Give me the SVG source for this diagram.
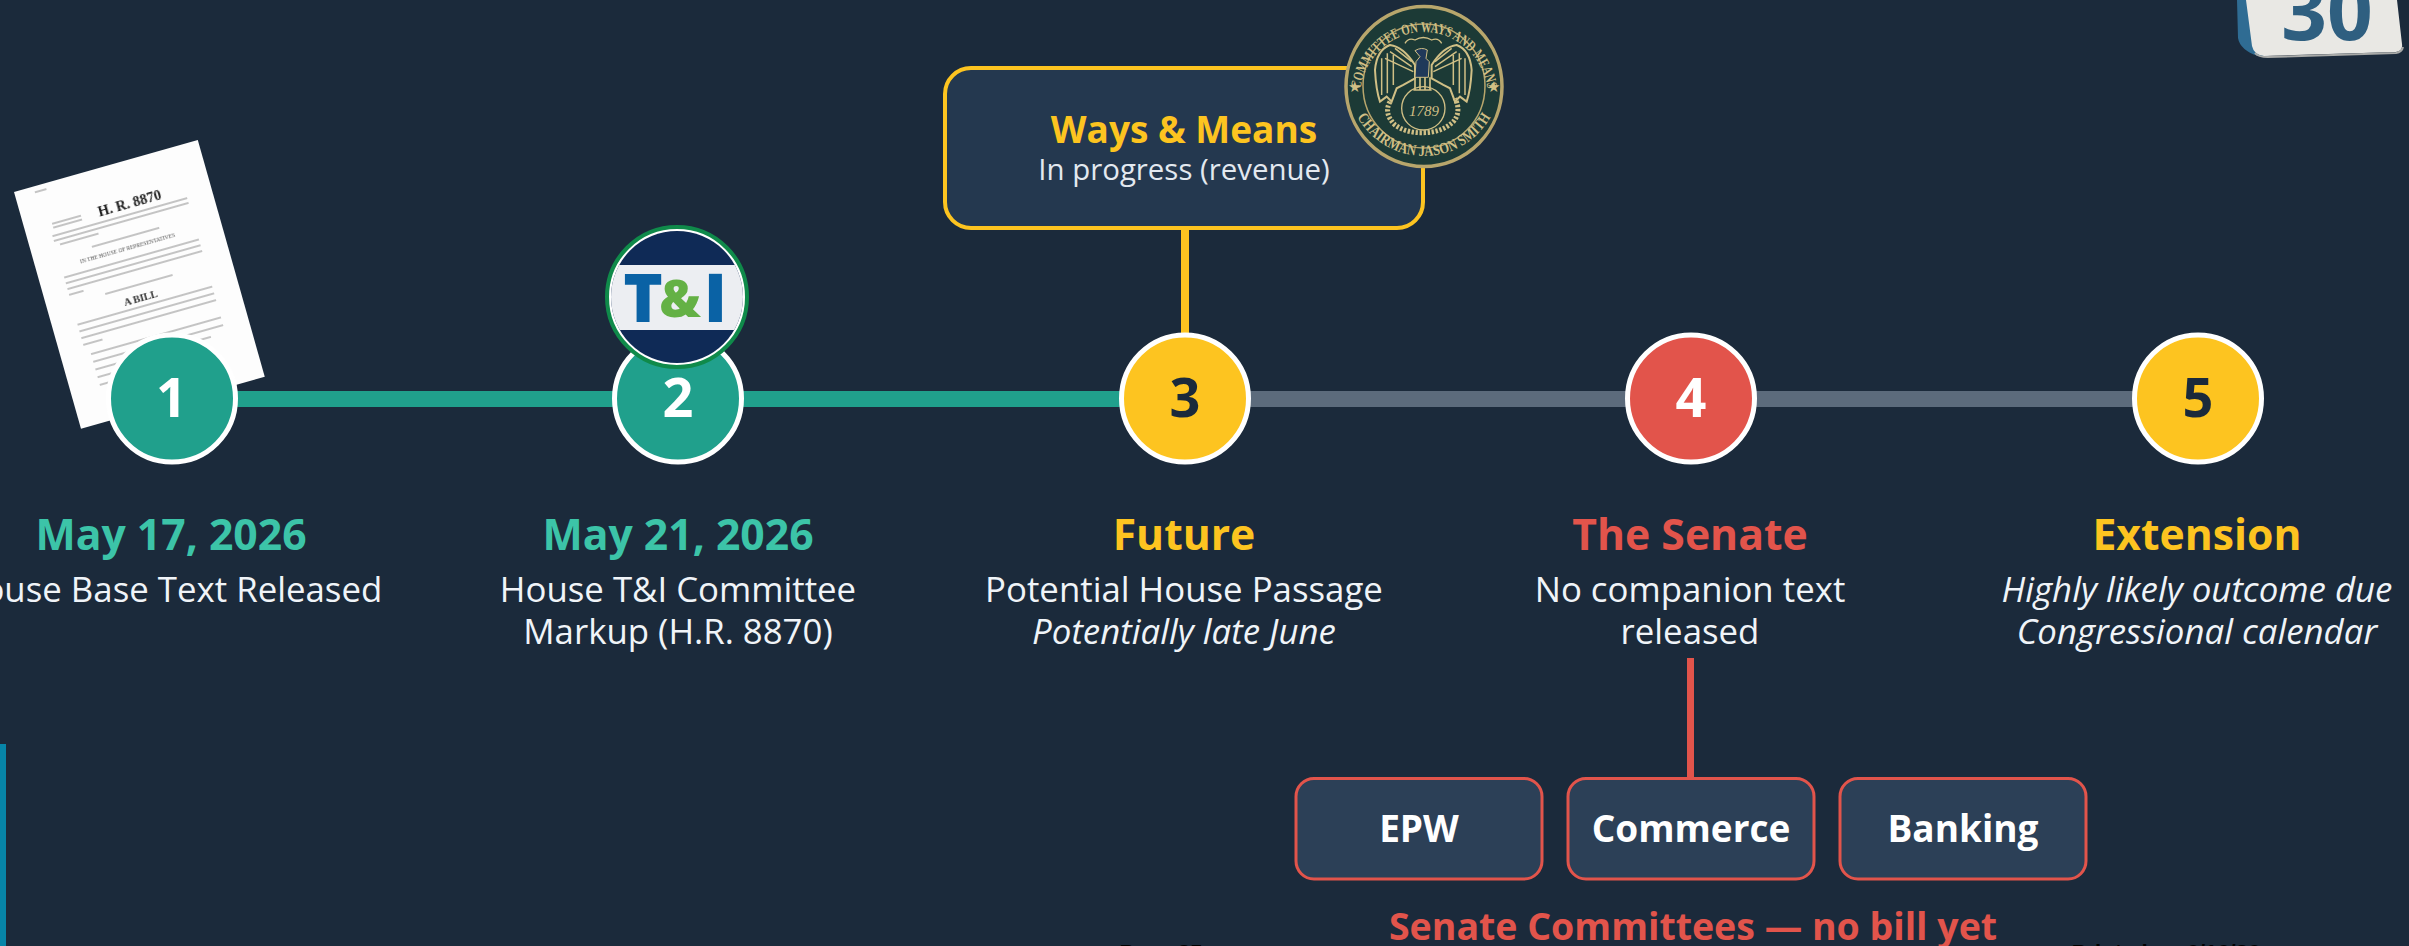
<svg xmlns="http://www.w3.org/2000/svg" width="2409" height="946" viewBox="0 0 2409 946">
<style>
text{font-family:"Open Sans","Noto Sans","Liberation Sans",sans-serif;text-anchor:middle}
.num{font-size:54px;font-weight:700}
.ttl{font-size:42.7px;font-weight:700}
.sub{font-size:34.8px;fill:#f0f4f8}
.it{font-style:italic}
.node{stroke:#fff;stroke-width:5}
.sen{fill:#2c4057;stroke:#e2544b;stroke-width:3}
.sent{font-size:37px;font-weight:700;fill:#fff}
.serif{font-family:"Liberation Serif",serif}
.gold{fill:#d0bf85}
.goldl{fill:none;stroke:#d0bf85}
.clip{font-family:"Liberation Sans",sans-serif;font-size:22px;font-weight:700;fill:#000}
</style>
<defs>
<filter id="soft" x="-5%" y="-5%" width="110%" height="110%"><feGaussianBlur stdDeviation="0.45"/></filter>
<clipPath id="ti"><circle cx="677" cy="297" r="66"/></clipPath>
<path id="arcT" d="M1360 98A64 66 0 1 1 1488 98"/>
<path id="arcB" d="M1347 78A77 78 0 0 0 1501 78"/>
<g id="wing"><path d="M225 195Q190 140 150 135Q110 150 105 210Q108 270 120 305L140 290L155 305L170 265L190 255L225 235Z" fill="#1c3a36" stroke="#d0bf85" stroke-width="6"/><path d="M125 175V285M142 160V280M160 165V255M135 175L220 215M150 155L215 200M165 145L215 185" fill="none" stroke="#d0bf85" stroke-width="4.5"/></g>
</defs>
<rect width="2409" height="946" fill="#1b2a3b"/>
<rect x="0" y="744" width="6" height="202" fill="#0785a8"/>
<text class="clip" x="1161" y="960">Page 35</text>
<text class="clip" x="2166" y="960">Printed on 6/16/26</text>
<g id="connectors">
<rect x="172" y="391" width="1013" height="16" fill="#20a08c"/>
<rect x="1185" y="391" width="1012" height="16" fill="#5c6b7c"/>
<rect x="1181" y="225" width="8" height="110" fill="#fdc420"/>
<rect x="1687" y="658" width="7" height="120" fill="#e2544b"/>
</g>
<g id="node-1">
<g transform="translate(14 192) rotate(-15.8)">
<rect width="191" height="246" fill="#fdfdfd"/>
<g filter="url(#soft)">
<text class="serif" x="108" y="47" style="font-size:14.5px;font-weight:700" fill="#222">H. R. 8870</text>
<text class="serif" x="94" y="87" style="font-size:5.6px" fill="#555">IN THE HOUSE OF REPRESENTATIVES</text>
<text class="serif" x="93" y="140" style="font-size:10.5px;font-weight:700" fill="#333">A BILL</text>
<g stroke="#8c8c8c" stroke-width="1.1">
<path d="M20 6H32M28 41H58M28 45H58M25 53H165M25 58H165M30 63H70"/>
<path d="M60 74H130M60 123H130"/>
<path d="M25 96H165M25 102H165M25 108H165M25 114H40"/>
<path d="M25 145H165M25 152H165M25 159H165M25 166H45"/>
<path d="M30 177H165M30 185H165M30 193H150M30 201H120M30 209H90"/>
</g>
</g>
</g>
<circle class="node" cx="172" cy="398.500" r="63.500" fill="#20a08c"/>
<text class="num" x="171.500" y="417" fill="#fff">1</text>
<text class="ttl" x="171" y="550" fill="#3cc4a8">May 17, 2026</text>
<text class="sub" x="170" y="602">House Base Text Released</text>
</g>
<g id="node-2">
<circle class="node" cx="678" cy="398.500" r="63.500" fill="#20a08c"/>
<text class="num" x="678" y="417" fill="#fff">2</text>
<circle cx="677" cy="297" r="70" fill="#fff" stroke="#0f8a4a" stroke-width="4"/>
<g clip-path="url(#ti)">
<rect x="600" y="220" width="160" height="155" fill="#0f2a56"/>
<rect x="600" y="265" width="160" height="65" fill="#eceef2"/>
</g>
<text y="322" style="font-size:67px;font-weight:800" fill="#0a62a5"><tspan x="643">T</tspan><tspan x="715.500">I</tspan></text>
<text x="680" y="317" style="font-size:52px;font-weight:800" fill="#64b145">&amp;</text>
<text class="ttl" x="678" y="550" fill="#3cc4a8">May 21, 2026</text>
<text class="sub" x="678" y="602">House T&amp;I Committee</text>
<text class="sub" x="678" y="644">Markup (H.R. 8870)</text>
</g>
<g id="node-3">
<rect x="945" y="68" width="478" height="160" rx="26" fill="#24384f" stroke="#fdc420" stroke-width="4"/>
<text x="1184" y="143" style="font-size:37px;font-weight:700" fill="#fdc420">Ways &amp; Means</text>
<text x="1184" y="180" style="font-size:29.400px" fill="#e3e9f0">In progress (revenue)</text>
<g id="seal">
<ellipse cx="1424" cy="86.500" rx="78" ry="80" fill="#1c3a36" stroke="#b8a66c" stroke-width="3.500"/>
<ellipse cx="1424" cy="86" rx="61" ry="62" fill="none" stroke="#b8a66c" stroke-width="1.500"/>
<text class="serif gold" style="font-size:15px;font-weight:700"><textPath href="#arcT" startOffset="50%" textLength="186" lengthAdjust="spacingAndGlyphs">COMMITTEE ON WAYS AND MEANS</textPath></text>
<text class="serif gold" style="font-size:15.500px;font-weight:700"><textPath href="#arcB" startOffset="50%" textLength="162" lengthAdjust="spacingAndGlyphs">CHAIRMAN JASON SMITH</textPath></text>
<text class="serif gold" x="1354" y="92" style="font-size:15px">★</text>
<text class="serif gold" x="1493" y="92" style="font-size:15px">★</text>
<g transform="translate(1340 0) scale(.3333)">
<use href="#wing"/>
<use href="#wing" transform="translate(500 0) scale(-1 1)"/>
<path d="M195 130Q205 112 225 120Q250 105 275 120Q295 112 305 130" class="goldl" stroke-width="4"/>
<path d="M225 152Q245 140 262 150L258 175L268 185L265 232L225 232L228 185L240 170Z" fill="#20395a" stroke="#d0bf85" stroke-width="3"/>
<path d="M225 232V270M240 232V270M255 232V270M270 232V270M220 270H275" class="goldl" stroke-width="5"/>
<circle cx="250" cy="325" r="65" class="goldl" stroke-width="4"/>
<path d="M150 305Q130 340 165 375Q200 400 250 398Q305 398 340 365Q365 335 345 295" class="goldl" stroke-width="15" stroke-dasharray="7 5"/>
</g>
<text class="serif gold" x="1424" y="116" style="font-size:15px;font-style:italic">1789</text>
</g>
<circle class="node" cx="1185" cy="398.500" r="63.500" fill="#fdc420"/>
<text class="num" x="1185" y="417" fill="#1b2a3b">3</text>
<text class="ttl" x="1184" y="550" fill="#fdc420">Future</text>
<text class="sub" x="1184" y="602">Potential House Passage</text>
<text class="sub it" x="1184" y="644">Potentially late June</text>
</g>
<g id="node-4">
<circle class="node" cx="1691" cy="398.500" r="63.500" fill="#e2544b"/>
<text class="num" x="1691" y="417" fill="#fff">4</text>
<text class="ttl" x="1690" y="550" fill="#e2544b">The Senate</text>
<text class="sub" x="1690" y="602">No companion text</text>
<text class="sub" x="1690" y="644">released</text>
</g>
<g id="node-5">
<circle class="node" cx="2198" cy="398.500" r="63.500" fill="#fdc420"/>
<text class="num" x="2198" y="417" fill="#1b2a3b">5</text>
<text class="ttl" x="2197" y="550" fill="#fdc420">Extension</text>
<text class="sub it" x="2197" y="602">Highly likely outcome due</text>
<text class="sub it" x="2197" y="644">Congressional calendar</text>
</g>
<g id="senate-epw"><rect class="sen" x="1296" y="778.500" width="246" height="100.500" rx="18"/><text class="sent" x="1419" y="842">EPW</text></g>
<g id="senate-commerce"><rect class="sen" x="1568" y="778.500" width="246" height="100.500" rx="18"/><text class="sent" x="1691" y="842">Commerce</text></g>
<g id="senate-banking"><rect class="sen" x="1840" y="778.500" width="246" height="100.500" rx="18"/><text class="sent" x="1963" y="842">Banking</text></g>
<text x="1693" y="940" style="font-size:37.500px;font-weight:700" fill="#e2544b">Senate Committees — no bill yet</text>
<g id="calendar">
<path d="M2237 0L2238 38Q2240 50 2258 56L2270 58L2262 45L2252 0Z" fill="#2f6c93"/>
<path d="M2246 0L2252 46Q2254 55 2264 56L2396 52Q2403 51 2402 44L2397 0Z" fill="#e9e8e4"/>
<path d="M2255 53Q2258 57 2268 57L2396 53Q2402 52 2403 47" fill="none" stroke="#a9aaa8" stroke-width="2"/>
<text x="2327" y="40" style="font-size:80px;font-weight:700" fill="#2f5f80">30</text>
</g>
</svg>
